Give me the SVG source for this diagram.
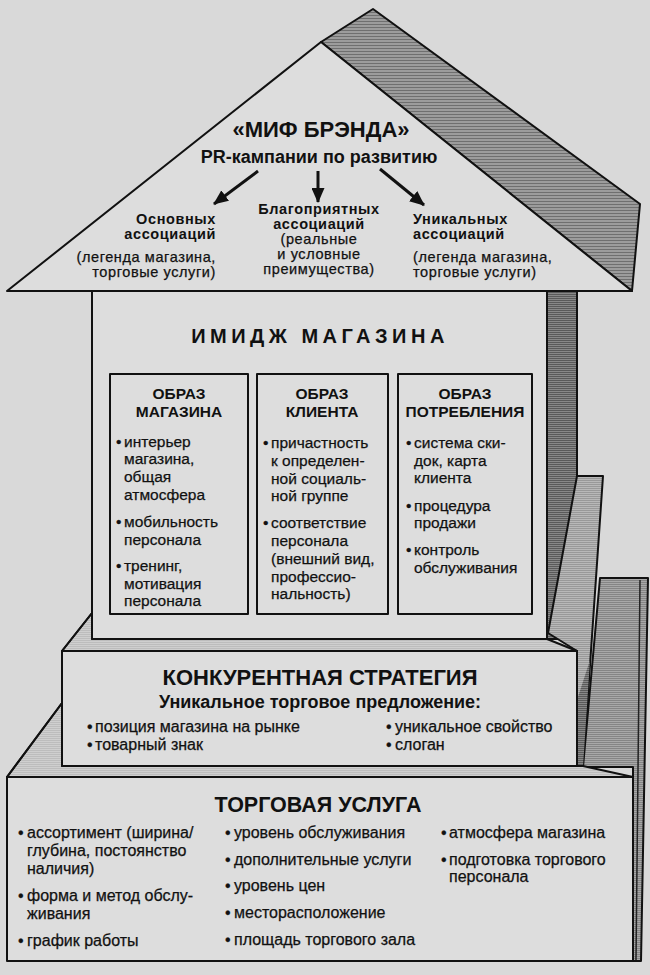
<svg xmlns="http://www.w3.org/2000/svg" width="650" height="975" viewBox="0 0 650 975">
<style>
text{font-family:"Liberation Sans",Arial,sans-serif;fill:#111}
.b{font-weight:bold}
.m{text-anchor:middle}
.e{text-anchor:end}
.r{font-size:14.5px;letter-spacing:0.6px}
.t{font-size:15.5px;stroke:#111;stroke-width:0.25}
.u{font-size:16px;stroke:#111;stroke-width:0.25}
.rr{stroke:#111;stroke-width:0.25}
.face{fill:#dddddd;stroke:#111;stroke-width:2;stroke-linejoin:round}
.ln{fill:none;stroke:#111;stroke-width:2}
.arr{stroke:#111;stroke-width:3;marker-end:url(#ah)}
</style>
<defs>
<pattern id="hRoof" width="4" height="3" patternUnits="userSpaceOnUse"><rect width="4" height="3" fill="#9c9c9c"/><rect width="4" height="1" fill="#6f6f6f"/></pattern>
<pattern id="hDark" width="4" height="2" patternUnits="userSpaceOnUse"><rect width="4" height="2" fill="#888"/><rect width="4" height="1" fill="#5a5a5a"/></pattern>
<pattern id="hLight" width="4" height="2" patternUnits="userSpaceOnUse"><rect width="4" height="2" fill="#b8b8b8"/><rect width="4" height="1" fill="#999"/></pattern>
<pattern id="hMid" width="4" height="2" patternUnits="userSpaceOnUse"><rect width="4" height="2" fill="#a8a8a8"/><rect width="4" height="1" fill="#858585"/></pattern>
<pattern id="hTop" width="4" height="2" patternUnits="userSpaceOnUse"><rect width="4" height="2" fill="#cfcfcf"/><rect width="4" height="1" fill="#bdbdbd"/></pattern>
<marker id="ah" markerUnits="userSpaceOnUse" markerWidth="15" markerHeight="13" refX="14" refY="6.5" orient="auto"><path d="M0,0 L15,6.5 L0,13 z" fill="#111"/></marker>
</defs>
<rect width="650" height="975" fill="#d9d9d9"/>

<g id="side-faces">
<rect x="547" y="291" width="30" height="348" fill="url(#hDark)" stroke="#111" stroke-width="2"/>
<polygon points="577,476 603,476 583,767 577,767 577,651 548,633" fill="url(#hLight)" stroke="#111" stroke-width="2" stroke-linejoin="round"/>
<polygon points="600,578 648,578 641,961 633,961 633,767 583,767" fill="url(#hMid)" stroke="#111" stroke-width="2" stroke-linejoin="round"/>
<line x1="640" y1="580" x2="636" y2="960" stroke="#222" stroke-width="1.5"/>
<polygon points="583,767 577,767 577,700 590,660" fill="url(#hDark)"/>
<polygon points="62,651 92,613 92,639 547,639 577,651" fill="url(#hTop)" stroke="#111" stroke-width="2" stroke-linejoin="round"/>
<polygon points="7,777 62,703 62,766 583,766 633,777" fill="url(#hTop)" stroke="#111" stroke-width="2" stroke-linejoin="round"/>
</g>

<g id="roof">
<polygon points="321,42 373,9 640,204 632,291" fill="url(#hRoof)" stroke="#111" stroke-width="2" stroke-linejoin="round"/>
<polygon class="face" points="7,291 321,42 632,291"/>
<text class="b m" x="321" y="137" font-size="22">«МИФ БРЭНДА»</text>
<text class="b m" x="319" y="163" font-size="18">PR-кампании по развитию</text>
</g>

<g id="node-basic">
<text class="b e r" x="216" y="224">Основных</text>
<text class="b e r" x="216" y="239">ассоциаций</text>
<text class="e r rr" x="216" y="262">(легенда магазина,</text>
<text class="e r rr" x="216" y="277">торговые услуги)</text>
</g>
<g id="node-favorable">
<text class="b m r" x="319" y="213.5">Благоприятных</text>
<text class="b m r" x="319" y="229">ассоциаций</text>
<text class="m r rr" x="319" y="244">(реальные</text>
<text class="m r rr" x="319" y="259">и условные</text>
<text class="m r rr" x="319" y="274">преимущества)</text>
</g>
<g id="node-unique">
<text class="b r" x="413" y="224">Уникальных</text>
<text class="b r" x="413" y="239">ассоциаций</text>
<text class="r rr" x="413" y="262">(легенда магазина,</text>
<text class="r rr" x="413" y="277">торговые услуги)</text>
</g>

<g id="connectors">
<line class="arr" x1="258" y1="171" x2="214" y2="204"/>
<line class="arr" x1="318" y1="171" x2="318" y2="202"/>
<line class="arr" x1="380" y1="169" x2="424" y2="205"/>
<line class="ln" x1="62" y1="651" x2="92" y2="613"/>
<line class="ln" x1="7" y1="777" x2="62" y2="703"/>
</g>

<g id="tier-image">
<rect class="face" x="92" y="291" width="455" height="348"/>
<text class="b m" x="320" y="343" font-size="20" letter-spacing="4.5">ИМИДЖ МАГАЗИНА</text>
</g>

<g id="box-store">
<rect class="face" x="110" y="374" width="138" height="240"/>
<text class="b m" font-size="15.5" x="179" y="399">ОБРАЗ</text>
<text class="b m" font-size="15.5" x="179" y="417">МАГАЗИНА</text>
<text class="t" y="447"><tspan x="116">•</tspan><tspan x="124">интерьер</tspan></text>
<text class="t" x="124" y="464">магазина,</text>
<text class="t" x="124" y="482">общая</text>
<text class="t" x="124" y="500">атмосфера</text>
<text class="t" y="527"><tspan x="116">•</tspan><tspan x="124">мобильность</tspan></text>
<text class="t" x="124" y="545">персонала</text>
<text class="t" y="571"><tspan x="116">•</tspan><tspan x="124">тренинг,</tspan></text>
<text class="t" x="124" y="589">мотивация</text>
<text class="t" x="124" y="606">персонала</text>
</g>

<g id="box-client">
<rect class="face" x="257" y="374" width="131" height="240"/>
<text class="b m" font-size="15.5" x="322" y="399">ОБРАЗ</text>
<text class="b m" font-size="15.5" x="322" y="417">КЛИЕНТА</text>
<text class="t" y="448"><tspan x="263">•</tspan><tspan x="271">причастность</tspan></text>
<text class="t" x="271" y="466">к определен-</text>
<text class="t" x="271" y="484">ной социаль-</text>
<text class="t" x="271" y="501">ной группе</text>
<text class="t" y="528"><tspan x="263">•</tspan><tspan x="271">соответствие</tspan></text>
<text class="t" x="271" y="546">персонала</text>
<text class="t" x="271" y="564">(внешний вид,</text>
<text class="t" x="271" y="582">профессио-</text>
<text class="t" x="271" y="599">нальность)</text>
</g>

<g id="box-consumption">
<rect class="face" x="398" y="374" width="134" height="240"/>
<text class="b m" font-size="15.5" x="465" y="399">ОБРАЗ</text>
<text class="b m" font-size="15.5" x="465" y="417">ПОТРЕБЛЕНИЯ</text>
<text class="t" y="448"><tspan x="406">•</tspan><tspan x="414">система ски-</tspan></text>
<text class="t" x="414" y="466">док, карта</text>
<text class="t" x="414" y="483">клиента</text>
<text class="t" y="511"><tspan x="406">•</tspan><tspan x="414">процедура</tspan></text>
<text class="t" x="414" y="528">продажи</text>
<text class="t" y="555"><tspan x="406">•</tspan><tspan x="414">контроль</tspan></text>
<text class="t" x="414" y="573">обслуживания</text>
</g>

<g id="tier-strategy">
<rect class="face" x="62" y="651" width="515" height="115"/>
<text class="b m" x="320" y="685" font-size="22">КОНКУРЕНТНАЯ СТРАТЕГИЯ</text>
<text class="b m" x="320" y="708" font-size="18">Уникальное торговое предложение:</text>
<text class="u" y="732"><tspan x="87">•</tspan><tspan x="95">позиция магазина на рынке</tspan></text>
<text class="u" y="750"><tspan x="87">•</tspan><tspan x="95">товарный знак</tspan></text>
<text class="u" y="732"><tspan x="386">•</tspan><tspan x="395">уникальное свойство</tspan></text>
<text class="u" y="750"><tspan x="386">•</tspan><tspan x="395">слоган</tspan></text>
</g>

<g id="tier-service">
<rect class="face" x="7" y="777" width="626" height="184"/>
<text class="b m" x="318" y="812" font-size="21.5">ТОРГОВАЯ УСЛУГА</text>
<text class="u" y="838"><tspan x="18">•</tspan><tspan x="27">ассортимент (ширина/</tspan></text>
<text class="u" x="27" y="856">глубина, постоянство</text>
<text class="u" x="27" y="874">наличия)</text>
<text class="u" y="901"><tspan x="18">•</tspan><tspan x="27">форма и метод обслу-</tspan></text>
<text class="u" x="27" y="919">живания</text>
<text class="u" y="946"><tspan x="18">•</tspan><tspan x="27">график работы</tspan></text>
<text class="u" y="838"><tspan x="225">•</tspan><tspan x="234">уровень обслуживания</tspan></text>
<text class="u" y="865"><tspan x="225">•</tspan><tspan x="234">дополнительные услуги</tspan></text>
<text class="u" y="891"><tspan x="225">•</tspan><tspan x="234">уровень цен</tspan></text>
<text class="u" y="918"><tspan x="225">•</tspan><tspan x="234">месторасположение</tspan></text>
<text class="u" y="945"><tspan x="225">•</tspan><tspan x="234">площадь торгового зала</tspan></text>
<text class="u" y="838"><tspan x="441">•</tspan><tspan x="449">атмосфера магазина</tspan></text>
<text class="u" y="865"><tspan x="441">•</tspan><tspan x="449">подготовка торгового</tspan></text>
<text class="u" x="449" y="882">персонала</text>
</g>
</svg>
